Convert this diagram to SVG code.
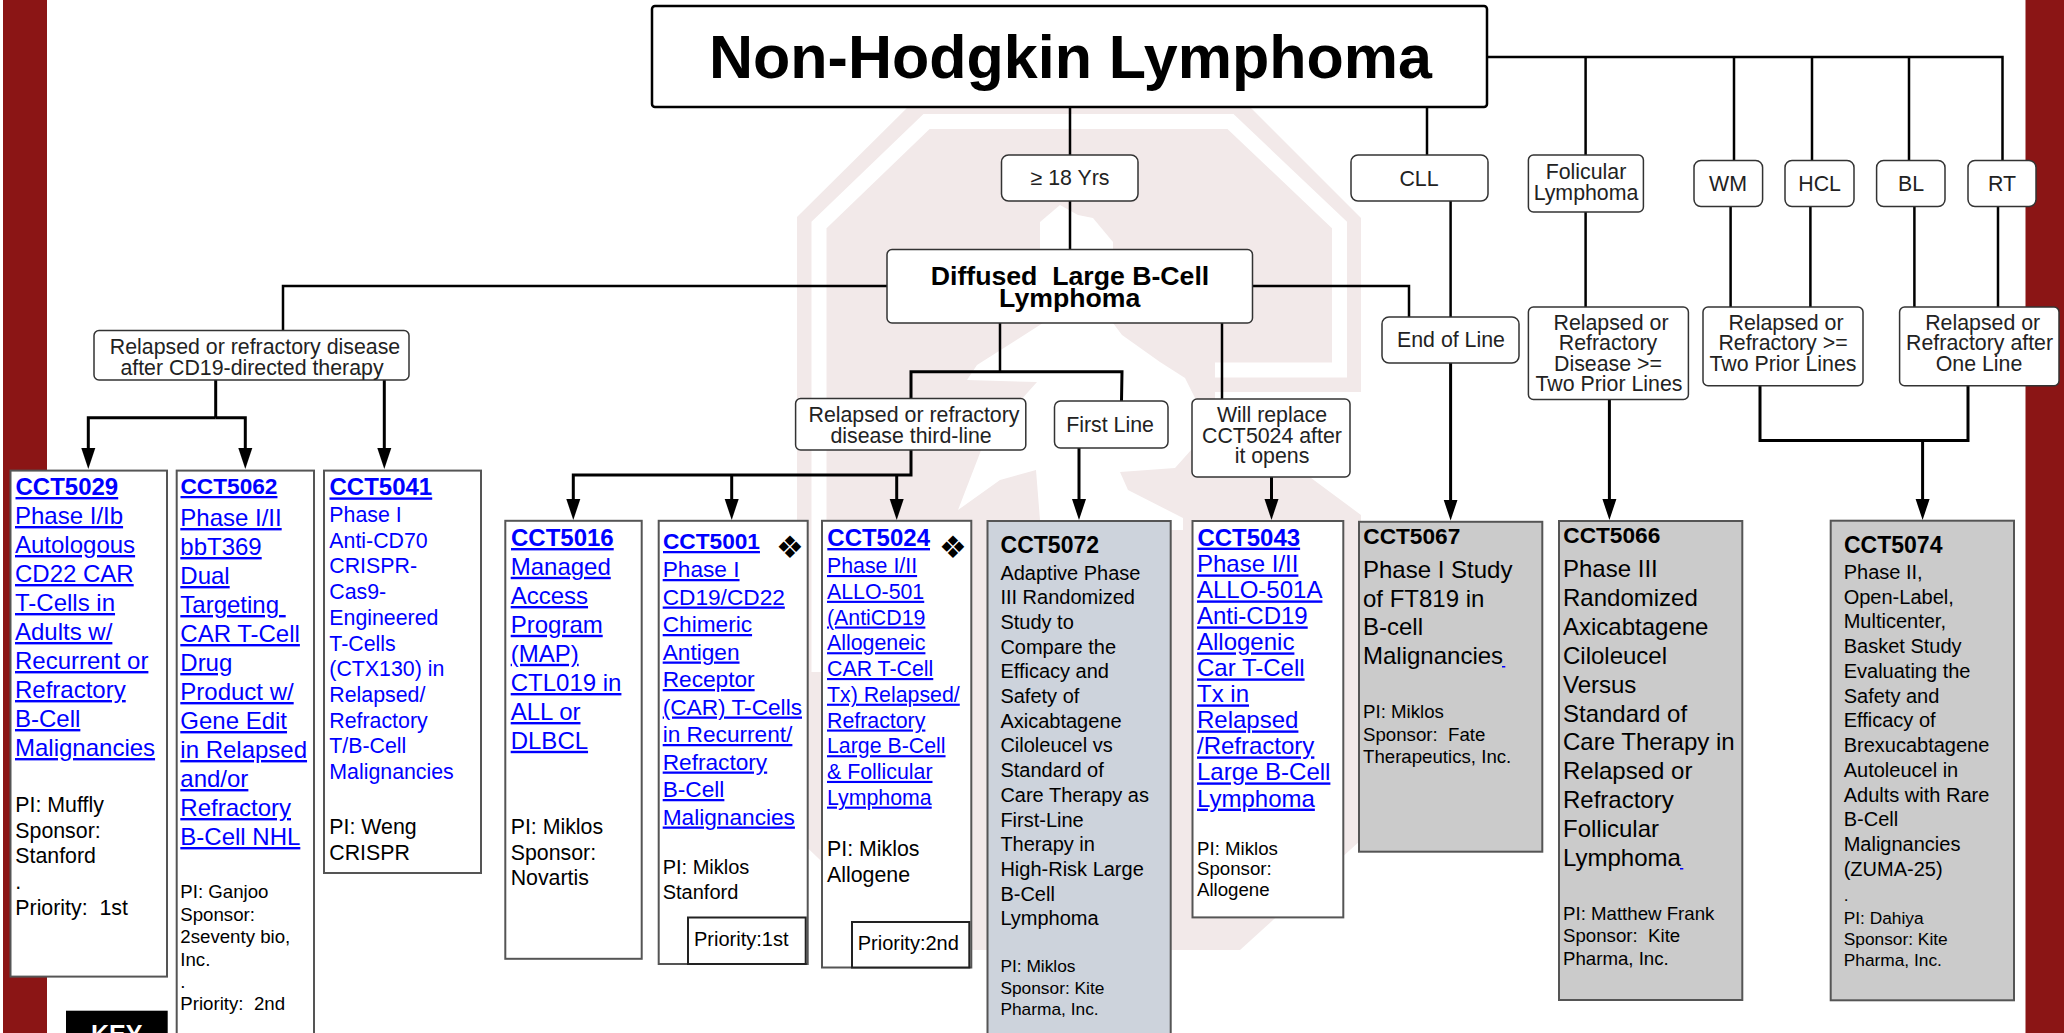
<svg xmlns="http://www.w3.org/2000/svg" width="2064" height="1033" viewBox="0 0 2064 1033">
<style>
text{font-family:"Liberation Sans",Arial,sans-serif;fill:#000}
.n{fill:#fff;stroke:#333;stroke-width:1.5}
.t{stroke:#555;stroke-width:2}
.w{fill:#fff}.sl{fill:#cdd3dc}.g{fill:#cbcbcb}
.p{fill:#fff;stroke:#222;stroke-width:2}
.l{font-size:21.33px;fill:#222}
.c{text-anchor:middle}
.lk{fill:#00f;text-decoration:underline}
.b{font-weight:bold}
.s24{font-size:24px}.s2267{font-size:22.67px}.s2133{font-size:21.33px}.s20{font-size:20px}.s1867{font-size:18.67px}.s1733{font-size:17.33px}.s23{font-size:23px}
.bl{fill:#00f}
.sym{font-family:"DejaVu Sans",sans-serif;font-size:31px;text-anchor:middle}
#connectors path{fill:none;stroke:#000;stroke-width:2.5}
#connectors .a{stroke-width:3;marker-end:url(#arrow)}
#connectors .h{stroke-width:3}
.bg{fill:#f2e9e9}
.wh{fill:#fff}
</style>
<defs>
<marker id="arrow" markerUnits="userSpaceOnUse" viewBox="0 -7.5 21 15" refX="13" refY="0" markerWidth="21" markerHeight="15" orient="auto"><path d="M0,-7 L21,0 L0,7Z" fill="#000"/></marker>
</defs>
<rect width="2064" height="1033" fill="#fff"/>
<rect x="3" width="44" height="1033" fill="#8b1515"/>
<rect x="2025.5" width="38.5" height="1033" fill="#8b1515"/>
<g id="watermark">
<path class="bg" d="M797,217 L915,100 L1243,100 L1361,218 L1361,840 L1240,950 L915,950 L797,838Z"/>
<path d="M819,672 L819,225 L926.5,121.5 L1230.5,121.5 L1339.5,225 L1339.5,370 L1215,370" fill="none" stroke="#fff" stroke-width="15"/>
<path class="wh" d="M1040,222 L1060,205 L1078,215 L1093,218 L1113,242 L1113,260 L1040,260Z"/>
<path class="wh" d="M977,365 L1043,323 L1113,323 L1122,335 L1160,362 L1185,378 L1195,398 L1200,440 L1175,468 L1120,472 L1128,490 L1183,518 L1183,530 L1090,530 L1040,520 L1036,470 L1000,480 L958,510 L985,440 L1037,382 L967,380Z"/>
<path class="wh" d="M1215,392 L1361,392 L1361,515 L1303,472 L1215,470Z"/>
</g>
<g id="connectors">
<path d="M1070,107V155M1070,201V249"/>
<path d="M1427,107V155"/>
<path d="M1487,57H2002.5V160.5M1585.6,57V155M1734,57V160.5M1812,57V160.5M1909,57V160.5"/>
<path d="M1585.6,212V307M1730.6,206.6V307M1810.4,206.6V307M1914.4,206.6V307M1998,206.6V307"/>
<path d="M887,286H283V330"/>
<path d="M1252.5,286H1409V317"/>
<path d="M1450.6,201V317"/>
<path d="M1000,323V371.7"/>
<path class="h" d="M911,398.5V371.7H1122L1121.5,401"/>
<path d="M1222,323V399"/>
<path class="h" d="M215.7,380V417.8"/>
<path class="a" d="M215.7,417.8H88.3V461"/>
<path class="a" d="M215.7,417.8H245.3V461"/>
<path class="a" d="M384.3,380V461"/>
<path class="h" d="M911,450V475H732"/>
<path class="a" d="M732,475H573.3V512"/>
<path class="a" d="M731.7,475V512"/>
<path class="a" d="M896.7,475V512"/>
<path class="a" d="M1079,448V512"/>
<path class="a" d="M1271.5,477V512"/>
<path class="a" d="M1450.6,363V512.6"/>
<path class="a" d="M1609.4,399.5V512"/>
<path class="h" d="M1760,385.7V440.4H1968V385.7"/>
<path class="a" d="M1922.6,440.4V512"/>
</g>
<g id="title"><rect x="652" y="6" width="835" height="101" rx="3" fill="#fff" stroke="#000" stroke-width="2.5"/><text class="c b" x="1070.5" y="78" font-size="61">Non-Hodgkin Lymphoma</text></g>
<g id="age"><rect class="n" x="1001.5" y="155" width="136.5" height="46" rx="7"/><text class="c l" x="1070" y="185">≥ 18 Yrs</text></g>
<g id="cll"><rect class="n" x="1351" y="155" width="137" height="46" rx="7"/><text class="c l" x="1419" y="186">CLL</text></g>
<g id="fl"><rect class="n" x="1528.4" y="155" width="115" height="57" rx="5"/><text class="c l" x="1586" y="178.5">Folicular</text><text class="c l" x="1586" y="199.5">Lymphoma</text></g>
<g id="wm"><rect class="n" x="1694" y="160.5" width="68.6" height="46" rx="7"/><text class="c l" x="1728" y="191">WM</text></g>
<g id="hcl"><rect class="n" x="1785" y="160.5" width="69" height="46" rx="7"/><text class="c l" x="1819.6" y="191">HCL</text></g>
<g id="bl"><rect class="n" x="1876.6" y="160.5" width="68.4" height="46" rx="7"/><text class="c l" x="1911" y="191">BL</text></g>
<g id="rt"><rect class="n" x="1968" y="160.5" width="68" height="46" rx="7"/><text class="c l" x="2002" y="191">RT</text></g>
<g id="dlbcl"><rect class="n" x="887" y="249.5" width="365.5" height="73.5" rx="5"/><text class="c b" x="1070" y="285" font-size="26.67">Diffused&#160; Large B-Cell</text><text class="c b" x="1069.7" y="307" font-size="26.67">Lymphoma</text></g>
<g id="r-cd19"><rect class="n" x="94" y="330.5" width="315" height="49.5" rx="5"/><text class="c l" x="255" y="353.8">Relapsed or refractory disease</text><text class="c l" x="252" y="374.8">after CD19-directed therapy</text></g>
<g id="r-third"><rect class="n" x="795.6" y="398.5" width="230.2" height="51.5" rx="5"/><text class="c l" x="914" y="421.7">Relapsed or refractory</text><text class="c l" x="911" y="442.5">disease third-line</text></g>
<g id="first"><rect class="n" x="1054.5" y="401" width="113.5" height="47" rx="6"/><text class="c l" x="1110" y="431.5">First Line</text></g>
<g id="replace"><rect class="n" x="1192" y="399" width="158" height="78" rx="5"/><text class="c l" x="1272" y="421.7">Will replace</text><text class="c l" x="1272" y="442.7">CCT5024 after</text><text class="c l" x="1272" y="463">it opens</text></g>
<g id="eol"><rect class="n" x="1382" y="317" width="137" height="46" rx="7"/><text class="c l" x="1451" y="346.5">End of Line</text></g>
<g id="r-fl"><rect class="n" x="1528.4" y="307" width="160" height="92.5" rx="5"/><text class="c l" x="1611" y="330">Relapsed or</text><text class="c l" x="1608" y="350">Refractory</text><text class="c l" x="1608" y="371">Disease &gt;=</text><text class="c l" x="1609" y="391">Two Prior Lines</text></g>
<g id="r-wm"><rect class="n" x="1703" y="307" width="160" height="78.7" rx="5"/><text class="c l" x="1786" y="330">Relapsed or</text><text class="c l" x="1783" y="350">Refractory &gt;=</text><text class="c l" x="1783" y="371">Two Prior Lines</text></g>
<g id="r-bl"><rect class="n" x="1899.6" y="307" width="159.4" height="78.7" rx="5"/><text class="c l" x="1982.7" y="330">Relapsed or</text><text class="c l" x="1979.6" y="350">Refractory after</text><text class="c l" x="1979" y="371">One Line</text></g>

<g id="cct5029"><rect class="t w" x="10.5" y="470.6" width="156.5" height="506"/>
<text class="lk b s24" x="15.5" y="495">CCT5029</text>
<text class="lk s24"><tspan x="15" y="524">Phase I/Ib</tspan><tspan x="15" y="553">Autologous</tspan><tspan x="15" y="582">CD22 CAR</tspan><tspan x="15" y="611">T-Cells in</tspan><tspan x="15" y="640">Adults w/</tspan><tspan x="15" y="669">Recurrent or</tspan><tspan x="15" y="698">Refractory</tspan><tspan x="15" y="727">B-Cell</tspan><tspan x="15" y="756">Malignancies</tspan></text>
<text class="s2133"><tspan x="15.3" y="812">PI: Muffly</tspan><tspan x="15.3" y="837.6">Sponsor:</tspan><tspan x="15.3" y="863.3">Stanford</tspan><tspan x="15.3" y="889">.</tspan><tspan x="15.3" y="914.6">Priority:&#160; 1st</tspan></text></g>

<g id="cct5062"><rect class="t w" x="176.7" y="470.6" width="137.3" height="580"/>
<text class="lk b s2267" x="180.5" y="494">CCT5062</text>
<text class="lk s24"><tspan x="180.3" y="526">Phase I/II</tspan><tspan x="180.3" y="555">bbT369</tspan><tspan x="180.3" y="584">Dual</tspan><tspan x="180.3" y="613">Targeting </tspan><tspan x="180.3" y="642">CAR T-Cell</tspan><tspan x="180.3" y="671">Drug</tspan><tspan x="180.3" y="700">Product w/</tspan><tspan x="180.3" y="729">Gene Edit</tspan><tspan x="180.3" y="758">in Relapsed</tspan><tspan x="180.3" y="787">and/or</tspan><tspan x="180.3" y="816">Refractory</tspan><tspan x="180.3" y="845">B-Cell NHL</tspan></text>
<text class="s1867"><tspan x="180.3" y="898.4">PI: Ganjoo</tspan><tspan x="180.3" y="920.8">Sponsor:</tspan><tspan x="180.3" y="943">2seventy bio,</tspan><tspan x="180.3" y="965.5">Inc.</tspan><tspan x="180.3" y="988">.</tspan><tspan x="180.3" y="1010.3">Priority:&#160; 2nd</tspan></text></g>

<g id="cct5041"><rect class="t w" x="324" y="470.6" width="157" height="402.4"/>
<text class="lk b s24" x="329.5" y="495.4">CCT5041</text>
<text class="bl s2133"><tspan x="329.3" y="522">Phase I</tspan><tspan x="329.3" y="547.7">Anti-CD70</tspan><tspan x="329.3" y="573.4">CRISPR-</tspan><tspan x="329.3" y="599.1">Cas9-</tspan><tspan x="329.3" y="624.8">Engineered</tspan><tspan x="329.3" y="650.5">T-Cells</tspan><tspan x="329.3" y="676.2">(CTX130) in</tspan><tspan x="329.3" y="701.9">Relapsed/</tspan><tspan x="329.3" y="727.6">Refractory</tspan><tspan x="329.3" y="753.3">T/B-Cell</tspan><tspan x="329.3" y="779">Malignancies</tspan></text>
<text class="s2133"><tspan x="329.3" y="834.4">PI: Weng</tspan><tspan x="329.3" y="860">CRISPR</tspan></text></g>

<g id="cct5016"><rect class="t w" x="505.3" y="520.8" width="136.4" height="438"/>
<text class="lk b s24" x="511" y="546">CCT5016</text>
<text class="lk s24"><tspan x="510.7" y="574.8">Managed</tspan><tspan x="510.7" y="604">Access</tspan><tspan x="510.7" y="632.8">Program</tspan><tspan x="510.7" y="661.8">(MAP)</tspan><tspan x="510.7" y="691">CTL019 in</tspan><tspan x="510.7" y="720">ALL or</tspan><tspan x="510.7" y="748.8">DLBCL</tspan></text>
<text class="s2133"><tspan x="510.7" y="834">PI: Miklos</tspan><tspan x="510.7" y="860">Sponsor:</tspan><tspan x="510.7" y="885.4">Novartis</tspan></text></g>

<g id="cct5001"><rect class="t w" x="658.7" y="520.8" width="149" height="443.2"/>
<text class="lk b s2267" x="663" y="549">CCT5001</text>
<text class="sym" x="790" y="558">❖</text>
<text class="lk s2267"><tspan x="662.7" y="577">Phase I</tspan><tspan x="662.7" y="604.5">CD19/CD22</tspan><tspan x="662.7" y="632">Chimeric</tspan><tspan x="662.7" y="659.5">Antigen</tspan><tspan x="662.7" y="687">Receptor</tspan><tspan x="662.7" y="714.5">(CAR) T-Cells</tspan><tspan x="662.7" y="742">in Recurrent/</tspan><tspan x="662.7" y="769.5">Refractory</tspan><tspan x="662.7" y="797">B-Cell</tspan><tspan x="662.7" y="824.5">Malignancies</tspan></text>
<text class="s20"><tspan x="662.7" y="874">PI: Miklos</tspan><tspan x="662.7" y="898.6">Stanford</tspan></text>
<rect class="p" x="688" y="917.5" width="117.7" height="46.5"/><text class="s20" x="694" y="946">Priority:1st</text></g>

<g id="cct5024"><rect class="t w" x="822" y="520.8" width="149.3" height="446.7"/>
<text class="lk b s24" x="827.3" y="546">CCT5024</text>
<text class="sym" x="953" y="558">❖</text>
<text class="lk s2133"><tspan x="827" y="573">Phase I/II</tspan><tspan x="827" y="598.8">ALLO-501</tspan><tspan x="827" y="624.5">(AntiCD19</tspan><tspan x="827" y="650.2">Allogeneic</tspan><tspan x="827" y="676">CAR T-Cell</tspan><tspan x="827" y="701.7">Tx) Relapsed/</tspan><tspan x="827" y="727.5">Refractory</tspan><tspan x="827" y="753.2">Large B-Cell</tspan><tspan x="827" y="778.9">&amp; Follicular</tspan><tspan x="827" y="804.6">Lymphoma</tspan></text>
<text class="s2133"><tspan x="827" y="856">PI: Miklos</tspan><tspan x="827" y="882">Allogene</tspan></text>
<rect class="p" x="852" y="922" width="117.3" height="45.5"/><text class="s20" x="857.7" y="949.6">Priority:2nd</text></g>

<g id="cct5072"><rect class="t sl" x="987.5" y="521" width="183.2" height="540"/>
<text class="b s23" x="1000.6" y="553.4">CCT5072</text>
<text class="s20"><tspan x="1000.4" y="579.5">Adaptive Phase</tspan><tspan x="1000.4" y="604.2">III Randomized</tspan><tspan x="1000.4" y="628.9">Study to</tspan><tspan x="1000.4" y="653.6">Compare the</tspan><tspan x="1000.4" y="678.3">Efficacy and</tspan><tspan x="1000.4" y="703">Safety of</tspan><tspan x="1000.4" y="727.7">Axicabtagene</tspan><tspan x="1000.4" y="752.4">Ciloleucel vs</tspan><tspan x="1000.4" y="777.1">Standard of</tspan><tspan x="1000.4" y="801.8">Care Therapy as</tspan><tspan x="1000.4" y="826.5">First-Line</tspan><tspan x="1000.4" y="851.2">Therapy in</tspan><tspan x="1000.4" y="875.9">High-Risk Large</tspan><tspan x="1000.4" y="900.6">B-Cell</tspan><tspan x="1000.4" y="925.3">Lymphoma</tspan></text>
<text class="s1733"><tspan x="1000.4" y="972">PI: Miklos</tspan><tspan x="1000.4" y="993.5">Sponsor: Kite</tspan><tspan x="1000.4" y="1015">Pharma, Inc.</tspan></text></g>

<g id="cct5043"><rect class="t w" x="1192.5" y="521" width="150.8" height="396.4"/>
<text class="lk b s24" x="1197.4" y="545.6">CCT5043</text>
<text class="lk s24"><tspan x="1197" y="572.4">Phase I/II</tspan><tspan x="1197" y="598.4">ALLO-501A</tspan><tspan x="1197" y="624.4">Anti-CD19</tspan><tspan x="1197" y="650.4">Allogenic</tspan><tspan x="1197" y="676.4">Car T-Cell</tspan><tspan x="1197" y="702.4">Tx in</tspan><tspan x="1197" y="728.4">Relapsed</tspan><tspan x="1197" y="754.4">/Refractory</tspan><tspan x="1197" y="780.4">Large B-Cell</tspan><tspan x="1197" y="806.6">Lymphoma</tspan></text>
<text class="s1867"><tspan x="1197" y="854.6">PI: Miklos</tspan><tspan x="1197" y="875">Sponsor:</tspan><tspan x="1197" y="895.5">Allogene</tspan></text></g>

<g id="cct5067"><rect class="t g" x="1359" y="521.8" width="183.3" height="329.9"/>
<text class="b s2267" x="1363.3" y="544">CCT5067</text>
<text class="s24"><tspan x="1363" y="577.5">Phase I Study</tspan><tspan x="1363" y="606.5">of FT819 in</tspan><tspan x="1363" y="635.4">B-cell</tspan><tspan x="1363" y="664.3">Malignancies</tspan></text>
<rect x="1502" y="666" width="3.3" height="1.5" fill="#00f"/>
<text class="s1867"><tspan x="1363" y="717.7">PI: Miklos</tspan><tspan x="1363" y="740.5">Sponsor:&#160; Fate</tspan><tspan x="1363" y="763">Therapeutics, Inc.</tspan></text></g>

<g id="cct5066"><rect class="t g" x="1559" y="521" width="183.3" height="479"/>
<text class="b s2267" x="1563.3" y="543">CCT5066</text>
<text class="s24"><tspan x="1563" y="577">Phase III</tspan><tspan x="1563" y="605.9">Randomized</tspan><tspan x="1563" y="634.8">Axicabtagene</tspan><tspan x="1563" y="663.7">Ciloleucel</tspan><tspan x="1563" y="692.6">Versus</tspan><tspan x="1563" y="721.5">Standard of</tspan><tspan x="1563" y="750.4">Care Therapy in</tspan><tspan x="1563" y="779.3">Relapsed or</tspan><tspan x="1563" y="808.2">Refractory</tspan><tspan x="1563" y="837.1">Follicular</tspan><tspan x="1563" y="866">Lymphoma</tspan></text>
<rect x="1680" y="868" width="3.3" height="1.5" fill="#00f"/>
<text class="s1867"><tspan x="1563" y="920">PI: Matthew Frank</tspan><tspan x="1563" y="942">Sponsor:&#160; Kite</tspan><tspan x="1563" y="964.6">Pharma, Inc.</tspan></text></g>

<g id="cct5074"><rect class="t g" x="1830.7" y="520.7" width="183.3" height="479.6"/>
<text class="b s23" x="1844" y="552.7">CCT5074</text>
<text class="s20"><tspan x="1843.7" y="579">Phase II,</tspan><tspan x="1843.7" y="603.7">Open-Label,</tspan><tspan x="1843.7" y="628.4">Multicenter,</tspan><tspan x="1843.7" y="653.2">Basket Study</tspan><tspan x="1843.7" y="677.9">Evaluating the</tspan><tspan x="1843.7" y="702.7">Safety and</tspan><tspan x="1843.7" y="727.4">Efficacy of</tspan><tspan x="1843.7" y="752.2">Brexucabtagene</tspan><tspan x="1843.7" y="776.9">Autoleucel in</tspan><tspan x="1843.7" y="801.7">Adults with Rare</tspan><tspan x="1843.7" y="826.4">B-Cell</tspan><tspan x="1843.7" y="851.2">Malignancies</tspan><tspan x="1843.7" y="875.9">(ZUMA-25)</tspan></text>
<text class="s1733"><tspan x="1843.7" y="900.7">.</tspan><tspan x="1843.7" y="923.5">PI: Dahiya</tspan><tspan x="1843.7" y="944.6">Sponsor: Kite</tspan><tspan x="1843.7" y="966">Pharma, Inc.</tspan></text></g>

<g id="key"><rect x="66" y="1010.7" width="101.7" height="40" fill="#000"/><text class="c b" x="116.7" y="1043" font-size="25" style="fill:#fff">KEY</text></g>
</svg>
